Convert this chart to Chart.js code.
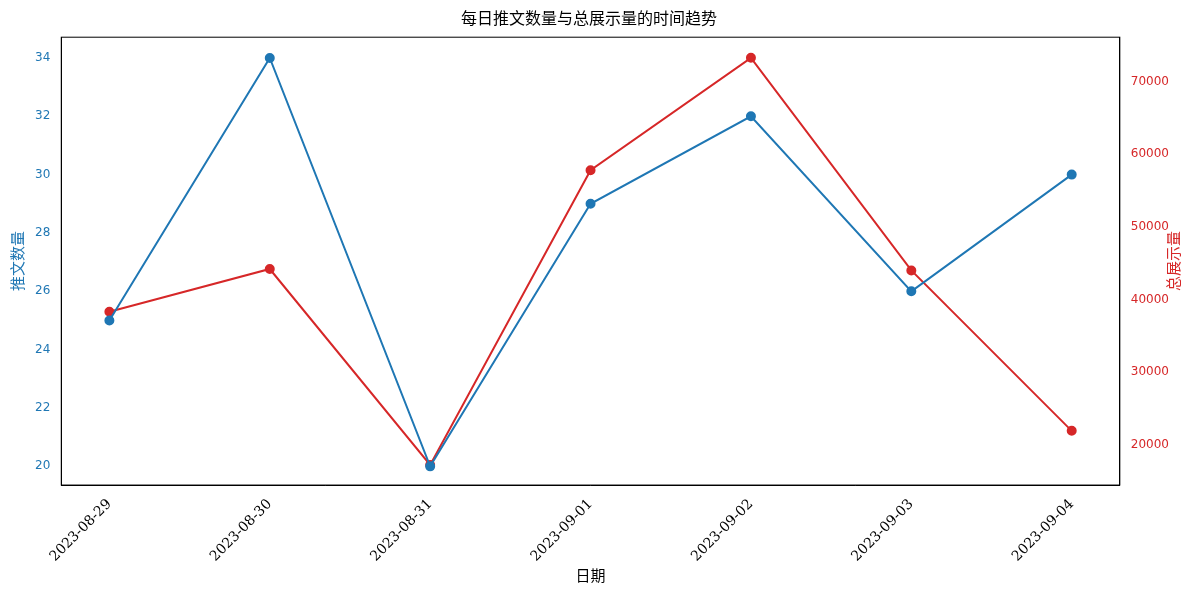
<!DOCTYPE html>
<html><head><meta charset="utf-8">
<script src="https://cdn.jsdelivr.net/npm/chart.js@4"></script>
<style>body{margin:0;background:#fff}#w{width:1200px;height:600px}</style>
</head><body><div id="w"><canvas id="c"></canvas></div>
<script>
const dates=["2023-08-29","2023-08-30","2023-08-31","2023-09-01","2023-09-02","2023-09-03","2023-09-04"];
const tweets=[25,34,20,29,32,26,30];
const impressions=[38300,44200,17200,57800,73300,44000,21900];
const font="'DejaVu Sans','Noto Sans CJK SC',sans-serif";
const frame={id:'frame',afterDraw(c){const a=c.chartArea,x=c.ctx;x.save();x.strokeStyle='#000';x.lineWidth=1;x.strokeRect(a.left,a.top,a.right-a.left,a.bottom-a.top);
x.translate(1175,a.top+(a.bottom-a.top)/2);x.rotate(-Math.PI/2);x.fillStyle='#d62728';x.font="15px "+font;x.textAlign='center';x.textBaseline='middle';x.fillText('总展示量',0,0);x.restore();}};
new Chart(document.getElementById('c'),{
type:'line',
data:{datasets:[
{label:'推文数量',data:tweets.map((v,i)=>({x:i,y:v})),borderColor:'#1f77b4',backgroundColor:'#1f77b4',pointRadius:4,borderWidth:2,yAxisID:'y',tension:0},
{label:'总展示量',data:impressions.map((v,i)=>({x:i,y:v})),borderColor:'#d62728',backgroundColor:'#d62728',pointRadius:4,borderWidth:2,yAxisID:'y1',tension:0}]},
options:{responsive:true,maintainAspectRatio:false,animation:false,
layout:{padding:{left:6,right:28,top:6,bottom:10}},
plugins:{legend:{display:false},tooltip:{enabled:false},title:{display:true,text:'每日推文数量与总展示量的时间趋势',color:'#000',font:{family:font,size:16,weight:'normal'},padding:{top:4,bottom:8}}},
scales:{
x:{type:'linear',min:-0.3,max:6.3,grid:{display:false,drawTicks:true},border:{color:'#000'},afterBuildTicks:a=>{a.ticks=dates.map((d,i)=>({value:i}))},ticks:{color:'#000',maxRotation:45,minRotation:45,font:{family:"'DejaVu Serif',serif",size:14},callback:v=>dates[v]},title:{display:true,text:'日期',color:'#000',font:{family:font,size:15},padding:{top:0}}},
y:{position:'left',min:19.36,max:34.71,grid:{display:false},border:{color:'#000'},afterBuildTicks:a=>{a.ticks=[20,22,24,26,28,30,32,34].map(v=>({value:v}))},ticks:{color:'#1f77b4',font:{family:font,size:12}},title:{display:true,text:'推文数量',color:'#1f77b4',font:{family:font,size:15}}},
y1:{position:'right',min:14430,max:76140,grid:{display:false},border:{color:'#000'},afterBuildTicks:a=>{a.ticks=[20000,30000,40000,50000,60000,70000].map(v=>({value:v}))},ticks:{color:'#d62728',font:{family:font,size:12},callback:v=>String(v)}}
}},plugins:[frame]});
</script></body></html>
